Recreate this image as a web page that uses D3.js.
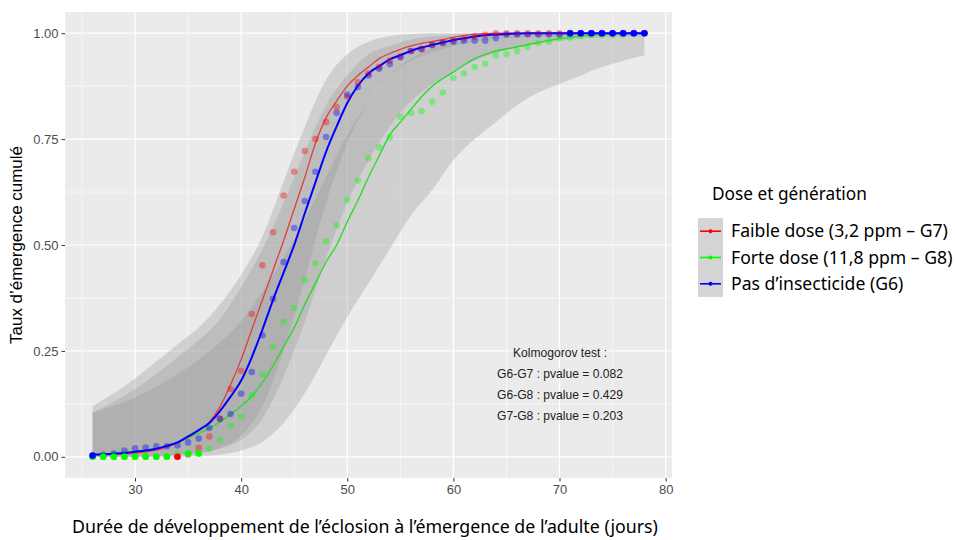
<!DOCTYPE html>
<html><head><meta charset="utf-8">
<script src="https://cdn.jsdelivr.net/npm/d3@7"></script>
<style>html,body{margin:0;padding:0;background:#fff}</style>
</head><body>
<svg id="c" width="955" height="540"></svg>
<script>
const days = [26,27,28,29,30,31,32,33,34,35,36,37,38,39,40,41,42,43,44,45,46,47,48,49,50,51,52,53,54,55,56,57,58,59,60,61,62,63,64,65,66,67,68,69,70,71,72,73,74,75,76,77,78];
const ribbonDays = [26,28,30,32,34,36,38,40,42,44,46,48,50,52,54,56,58,60,62,64,66,68,70,72,74,76,78];
const seriesNames = ["Faible dose (3,2 ppm \u2013 G7)","Forte dose (11,8 ppm \u2013 G8)","Pas d\u2019insecticide (G6)"];
const xTicks = [30,40,50,60,70,80];
const yTicks = [0,0.25,0.5,0.75,1];
const yTickLabels = ["0.00","0.25","0.50","0.75","1.00"];
const ksLines = ["Kolmogorov test :","G6-G7 : pvalue = 0.082","G6-G8 : pvalue = 0.429","G7-G8 : pvalue = 0.203"];

// observed cumulative emergence (one value per day)
const obsG7 = [0,0,0,0,0,0,0,0,0,0.005,0.021,0.048,0.091,0.16,0.203,0.337,0.452,0.53,0.617,0.673,0.722,0.75,0.79,0.826,0.85,0.884,0.905,0.92,0.935,0.945,0.958,0.963,0.972,0.978,0.983,0.988,0.992,0.996,1,1,1,1,1,1,1,1,1,1,1,1,1,1,1];
const obsG8 = [0,0,0,0,0,0,0,0,0.008,0.008,0.008,0.019,0.04,0.074,0.095,0.146,0.195,0.26,0.319,0.351,0.417,0.457,0.509,0.546,0.606,0.652,0.705,0.73,0.754,0.803,0.812,0.816,0.838,0.86,0.894,0.905,0.92,0.928,0.948,0.95,0.958,0.968,0.977,0.98,0.988,0.99,0.993,0.995,0.995,0.995,0.996,0.998,1];
const obsG6 = [0.003,0.005,0.008,0.015,0.02,0.022,0.025,0.025,0.027,0.034,0.043,0.068,0.089,0.101,0.149,0.2,0.287,0.373,0.46,0.54,0.604,0.673,0.755,0.812,0.855,0.873,0.9,0.916,0.927,0.943,0.958,0.962,0.972,0.977,0.98,0.982,0.982,0.982,0.988,0.997,0.997,0.997,0.997,0.997,0.997,1,1,1,1,1,1,1,1];
// days whose observed point is drawn fully opaque
const solidG7 = [34];
const solidG8 = [26,27,28,29,30,31,32,33,35,36];
const solidG6 = [26,71,72,73,74,75,76,77,78];

// fitted curves
const fitG7 = [0.004,0.005,0.006,0.007,0.009,0.012,0.016,0.023,0.033,0.046,0.062,0.082,0.118,0.17,0.23,0.3,0.37,0.44,0.51,0.585,0.66,0.74,0.8,0.84,0.875,0.9,0.92,0.94,0.952,0.962,0.97,0.976,0.98,0.985,0.99,0.994,0.997,0.999,1,1,1,1,1,1,1,1,1,1,1,1,1,1,1];
const fitG8 = [0.006,0.007,0.009,0.011,0.013,0.016,0.02,0.026,0.035,0.045,0.055,0.067,0.082,0.1,0.12,0.143,0.175,0.215,0.26,0.305,0.36,0.41,0.46,0.5,0.555,0.605,0.66,0.71,0.76,0.79,0.82,0.85,0.875,0.893,0.908,0.925,0.94,0.95,0.958,0.963,0.968,0.973,0.978,0.983,0.987,0.99,0.993,0.995,0.997,0.998,0.999,0.999,1];
const fitG6 = [0.005,0.006,0.007,0.009,0.012,0.015,0.019,0.026,0.034,0.048,0.063,0.08,0.108,0.142,0.18,0.235,0.3,0.37,0.435,0.5,0.575,0.648,0.72,0.78,0.835,0.876,0.905,0.922,0.938,0.948,0.958,0.966,0.972,0.978,0.984,0.988,0.992,0.995,0.997,0.998,0.999,1,1,1,1,1,1,1,1,1,1,1,1];

// confidence ribbons
const ribG7Up = [0.12,0.15,0.185,0.225,0.265,0.305,0.36,0.43,0.52,0.65,0.78,0.89,0.95,0.98,0.993,0.998,1,1,1,1,1,1,1,1,1,1,1];
const ribG7Lo = [0,0,0,0.002,0.005,0.01,0.02,0.05,0.12,0.25,0.42,0.6,0.74,0.84,0.9,0.935,0.955,0.97,0.98,0.987,0.99,0.992,0.993,0.994,0.995,0.995,0.996];
const ribG6Up = [0.104,0.13,0.16,0.195,0.235,0.275,0.325,0.4,0.49,0.6,0.72,0.83,0.9,0.95,0.97,0.985,0.992,0.996,1,1,1,1,1,1,1,1,1];
const ribG6Lo = [0,0,0,0.001,0.004,0.008,0.02,0.04,0.09,0.19,0.32,0.47,0.6,0.7,0.78,0.84,0.88,0.91,0.935,0.953,0.965,0.975,0.982,0.987,0.99,0.992,0.993];
const ribG8Up = [0.104,0.12,0.14,0.165,0.195,0.23,0.27,0.32,0.39,0.47,0.56,0.66,0.76,0.84,0.9,0.94,0.965,0.98,0.99,0.995,1,1,1,1,1,1,1];
const ribG8Lo = [0,0,0,0,0,0.002,0.005,0.015,0.035,0.08,0.15,0.24,0.33,0.41,0.49,0.57,0.63,0.7,0.75,0.79,0.83,0.86,0.88,0.9,0.92,0.935,0.948];

const series = [
  {name: seriesNames[0], color: "#FF0000", line: "#E83030", lw: 1.3, lo: 0.9, obs: obsG7, fit: fitG7, solid: solidG7, up: ribG7Up, low: ribG7Lo},
  {name: seriesNames[1], color: "#00FF00", line: "#22DD22", lw: 1.3, lo: 1, obs: obsG8, fit: fitG8, solid: solidG8, up: ribG8Up, low: ribG8Lo},
  {name: seriesNames[2], color: "#0000FF", line: "#0000FF", lw: 2, lo: 1, obs: obsG6, fit: fitG6, solid: solidG6, up: ribG6Up, low: ribG6Lo}
];

const svg = d3.select("#c");
const P = {l: 65, r: 672, t: 12, b: 478};
const x = d3.scaleLinear().domain([23.4, 80.6]).range([P.l, P.r]);
const y = d3.scaleLinear().domain([-0.05, 1.05]).range([P.b, P.t]);

svg.append("rect").attr("x", P.l).attr("y", P.t).attr("width", P.r - P.l).attr("height", P.b - P.t).attr("fill", "#EBEBEB");

const g = svg.append("g");
const xMinor = [25,35,45,55,65,75];
const yMinor = [0.125,0.375,0.625,0.875];
g.selectAll(".xmin").data(xMinor).join("line").attr("x1", d => x(d)).attr("x2", d => x(d)).attr("y1", P.t).attr("y2", P.b).attr("stroke", "#fff").attr("stroke-width", 0.6);
g.selectAll(".ymin").data(yMinor).join("line").attr("y1", d => y(d)).attr("y2", d => y(d)).attr("x1", P.l).attr("x2", P.r).attr("stroke", "#fff").attr("stroke-width", 0.6);
g.selectAll(".xmaj").data(xTicks).join("line").attr("x1", d => x(d)).attr("x2", d => x(d)).attr("y1", P.t).attr("y2", P.b).attr("stroke", "#fff").attr("stroke-width", 1.2);
g.selectAll(".ymaj").data(yTicks).join("line").attr("y1", d => y(d)).attr("y2", d => y(d)).attr("x1", P.l).attr("x2", P.r).attr("stroke", "#fff").attr("stroke-width", 1.2);

const area = d3.area().x(d => x(d.d)).y0(d => y(d.lo)).y1(d => y(d.hi)).curve(d3.curveMonotoneX);
series.forEach(s => {
  const data = ribbonDays.map((d, i) => ({d, lo: s.low[i], hi: s.up[i]}));
  g.append("path").attr("d", area(data)).attr("fill", "#999999").attr("fill-opacity", 0.33);
});

const line = d3.line().x(d => x(d.d)).y(d => y(d.v)).curve(d3.curveMonotoneX);
series.forEach(s => {
  const data = days.map((d, i) => ({d, v: s.fit[i]}));
  g.append("path").attr("d", line(data)).attr("fill", "none").attr("stroke", s.line).attr("stroke-width", s.lw).attr("stroke-opacity", s.lo);
});

series.forEach(s => {
  g.append("g").selectAll("circle").data(days.map((d, i) => ({d, v: s.obs[i]}))).join("circle")
    .attr("cx", d => x(d.d)).attr("cy", d => y(d.v)).attr("r", 3.3).attr("fill", s.color).attr("fill-opacity", 0.38);
});
[1, 0, 2].forEach(k => {
  const s = series[k];
  g.append("g").selectAll("circle").data(s.solid.map(d => ({d, v: s.obs[days.indexOf(d)]}))).join("circle")
    .attr("cx", d => x(d.d)).attr("cy", d => y(d.v)).attr("r", 3.3).attr("fill", s.color);
});

const ax = svg.append("g").attr("transform", `translate(0,${P.b})`)
  .call(d3.axisBottom(x).tickValues(xTicks).tickSize(3.5).tickPadding(3).tickFormat(d3.format("d")));
const ay = svg.append("g").attr("transform", `translate(${P.l},0)`)
  .call(d3.axisLeft(y).tickValues(yTicks).tickSize(3.5).tickPadding(3).tickFormat((d, i) => yTickLabels[i]));
[ax, ay].forEach(a => {
  a.select(".domain").remove();
  a.selectAll(".tick line").attr("stroke", "#333333");
  a.selectAll("text").attr("fill", "#4D4D4D").attr("font-family", "Liberation Sans, Arial, sans-serif").attr("font-size", 13);
});

function fit(sel, w) {
  const cur = sel.node().getComputedTextLength();
  const fs = parseFloat(sel.attr("font-size"));
  const nf = fs * w / cur;
  sel.attr("font-size", nf);
  return nf;
}

const xt = svg.append("text").attr("x", 365).attr("y", 533).attr("text-anchor", "middle")
  .attr("font-family", "Noto Sans, Open Sans, sans-serif").attr("font-size", 16).attr("fill", "#000")
  .text("Dur\u00e9e de d\u00e9veloppement de l\u2019\u00e9closion \u00e0 l\u2019\u00e9mergence de l\u2019adulte (jours)");
fit(xt, 586);
const yt = svg.append("text").attr("transform", "translate(22,245) rotate(-90)").attr("text-anchor", "middle")
  .attr("font-family", "Liberation Sans, Arial, sans-serif").attr("font-size", 15).attr("fill", "#000")
  .text("Taux d\u2019\u00e9mergence cumul\u00e9");
fit(yt, 198);

const ksTexts = ksLines.map((t, i) => svg.append("text").attr("x", 560).attr("y", 357 + i * 21).attr("text-anchor", "middle")
    .attr("font-family", "Liberation Sans, Arial, sans-serif").attr("font-size", 11).attr("fill", "#222").text(t));
const ksSize = fit(ksTexts[1], 126);
ksTexts.forEach(t => t.attr("font-size", ksSize));

const lg = svg.append("g");
const lt = lg.append("text").attr("x", 712).attr("y", 200).attr("font-family", "Noto Sans, Open Sans, sans-serif")
  .attr("font-size", 16).attr("fill", "#000").text("Dose et g\u00e9n\u00e9ration");
fit(lt, 155);
let labSize = 16;
series.forEach((s, i) => {
  const cy = 231.2 + i * 26.3;
  lg.append("rect").attr("x", 698).attr("y", cy - 13.15).attr("width", 25).attr("height", 26.3).attr("fill", "#999999").attr("fill-opacity", 0.42);
  lg.append("line").attr("x1", 700).attr("x2", 721).attr("y1", cy).attr("y2", cy).attr("stroke", s.color).attr("stroke-width", 1.6);
  lg.append("circle").attr("cx", 710.5).attr("cy", cy).attr("r", 2).attr("fill", s.color);
  const tx = lg.append("text").attr("x", 731).attr("y", cy + 6).attr("font-family", "Noto Sans, Open Sans, sans-serif")
    .attr("font-size", labSize).attr("fill", "#000").text(s.name);
  if (i === 0) labSize = fit(tx, 217);
});
</script>
</body></html>
